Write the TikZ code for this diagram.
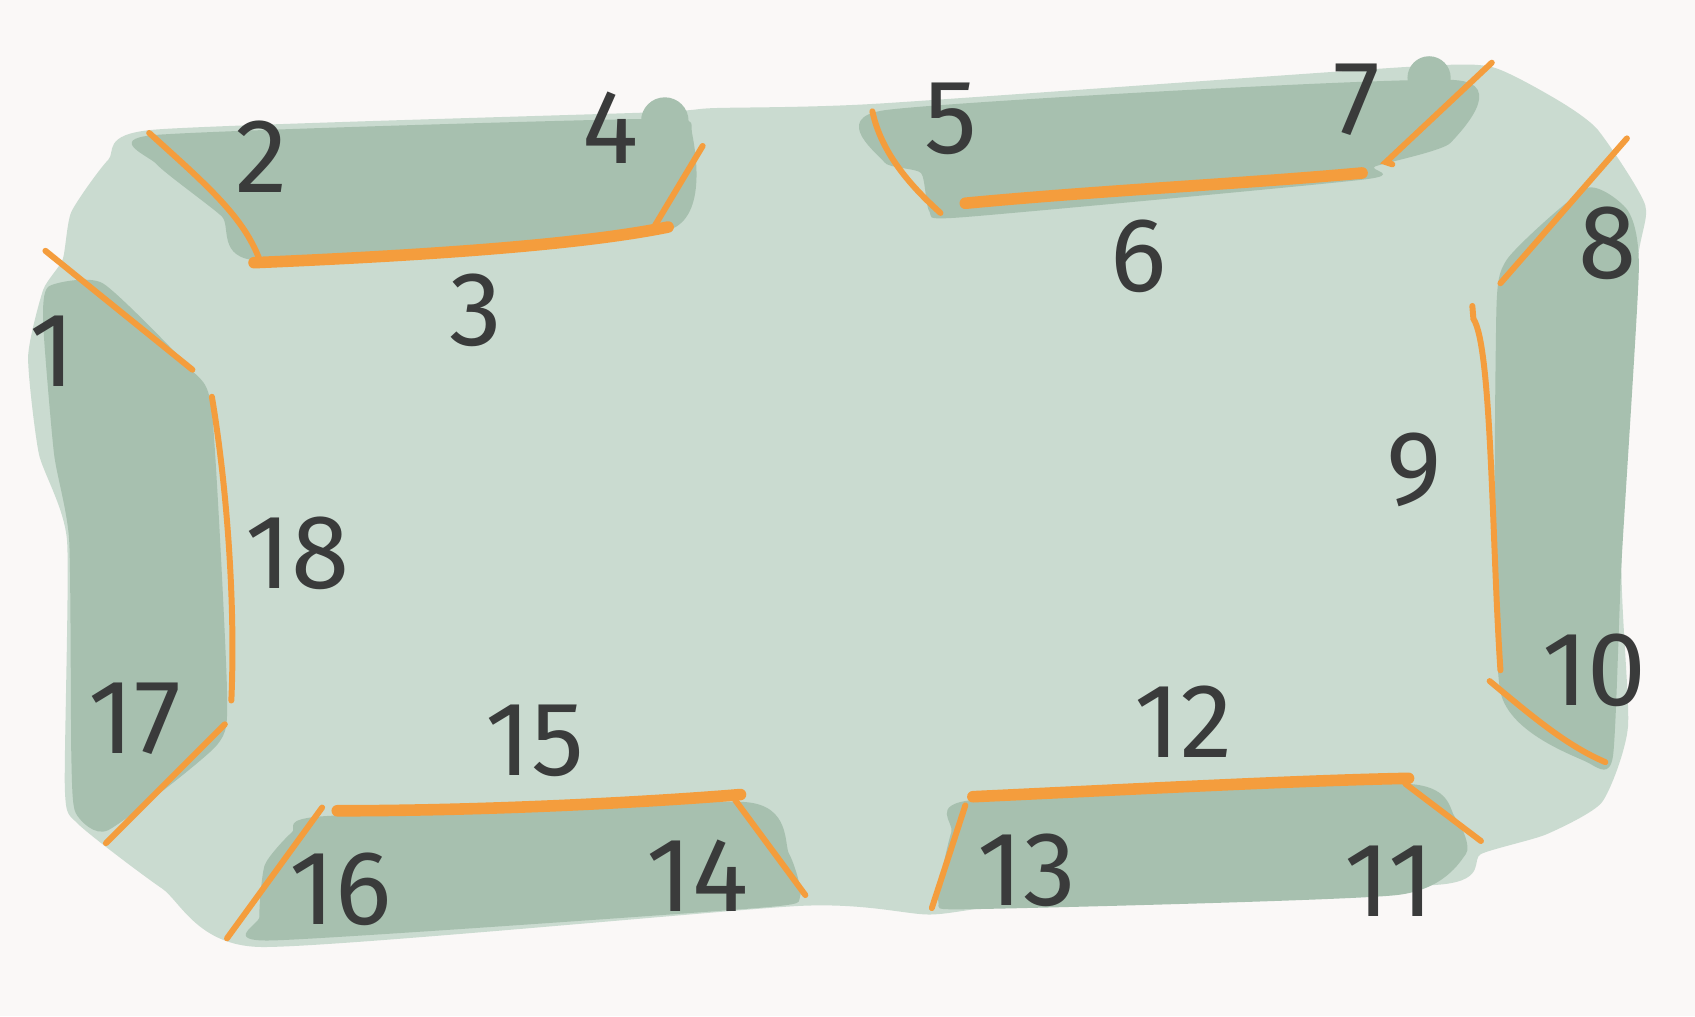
\documentclass[tikz,border=0pt]{standalone}
\usepackage{fontspec}
\setmainfont{Fira Sans}
\definecolor{paper}{HTML}{FAF8F7}
\definecolor{feltlight}{HTML}{CADBD0}
\definecolor{feltdark}{HTML}{A7C0AF}
\definecolor{railorange}{HTML}{F49D3D}
\definecolor{inkgrey}{HTML}{3A3B3B}

\begin{document}
\begin{tikzpicture}[x=0.1081mm, y=-0.1081mm,
    num/.style={text=inkgrey, font=\fontsize{30}{30}\selectfont, inner sep=0pt},
    rail/.style={draw=railorange, line width=1.7pt, line cap=round},
    railthick/.style={rail, line width=3.3pt},
    blob/.style={smooth cycle, tension=0.35}]

    \useasboundingbox[fill=paper] (0,0) rectangle (1568,940);

    % ================= TABLE BODY =================
    \fill[feltlight] plot[blob] coordinates {
        (100,148) (142,120) (600,104) (660,100) (810,96)
        (1300,62) (1380,62) (1440,92) (1478,120) (1522,190)
        (1514,250) (1500,520) (1506,672) (1482,742) (1430,772)
        (1370,790) (1335,818) (950,836) (860,846) (740,838)
        (240,876) (150,822) (72,762) (60,730) (62,500)
        (36,420) (26,330) (40,268) (58,240) (66,196)};

    % ================= POCKET BANDS =================
    \fill[feltdark] plot[blob] coordinates {
        (142,125) (600,110) (640,122) (618,213) (240,241)
        (205,200) (145,152)};
    \fill[feltdark] (615,112) circle (22);
    \fill[feltdark] plot[blob] coordinates {
        (818,102) (1345,74) (1342,132) (1272,154) (1262,166)
        (890,201) (860,196) (852,160) (818,150)};
    \fill[feltdark] (1322,72) circle (20);
    \fill[feltdark] plot[blob] coordinates {
        (1394,240) (1468,174) (1506,195) (1516,250) (1500,520)
        (1492,700) (1470,706) (1388,640) (1384,300)};
    \fill[feltdark] plot[blob] coordinates {
        (900,740) (1300,725) (1346,756) (1356,790) (1292,828)
        (900,841) (868,834) (880,770)};
    \fill[feltdark] plot[blob] coordinates {
        (300,755) (690,742) (730,790) (740,830) (700,840)
        (250,870) (240,848) (245,800) (270,770)};
    \fill[feltdark] plot[blob] coordinates {
        (45,265) (95,262) (175,340) (196,380) (210,640)
        (200,690) (100,768) (70,752) (66,700) (64,500)
        (50,420) (40,300)};

    % ================= CUSHIONS =================
    \draw[rail] (42,232) -- (178,342);
    \draw[rail] (138,123) .. controls (190,170) and (225,200) .. (240,240);
    \draw[railthick] (235,243) .. controls (400,236) and (540,226) .. (618,210);
    \draw[rail] (650,135) -- (605,210);
    \draw[rail] (807,103) .. controls (815,140) and (840,170) .. (870,197);
    \draw[railthick] (893,188) .. controls (1020,176) and (1150,170) .. (1260,160);
    \draw[rail] (1380,58) -- (1282,150) -- (1288,152);
    \draw[rail] (1505,128) -- (1388,262);
    \draw[rail] (1362,283) -- (1363,295) .. controls (1380,320) and (1380,500) .. (1388,620);
    \draw[rail] (1378,630) .. controls (1420,665) and (1450,690) .. (1485,705);
    \draw[rail] (1300,725) -- (1370,778);
    \draw[railthick] (900,737) .. controls (1050,730) and (1200,722) .. (1303,720);
    \draw[rail] (893,745) -- (862,840);
    \draw[rail] (680,740) -- (745,828);
    \draw[railthick] (312,750) .. controls (450,750) and (600,742) .. (685,735);
    \draw[rail] (298,747) -- (210,868);
    \draw[rail] (208,670) -- (98,780);
    \draw[rail] (196,367) .. controls (210,450) and (218,560) .. (214,648);

    % ================= LABELS =================
    \node[num] (n1)  at (48,325)   {1};
    \node[num] (n2)  at (242,145)  {2};
    \node[num] (n3)  at (440,287)  {3};
    \node[num] (n4)  at (565,118)  {4};
    \node[num] (n5)  at (880,110)  {5};
    \node[num] (n6)  at (1053,237) {6};
    \node[num] (n7)  at (1255,92)  {7};
    \node[num] (n8)  at (1487,225) {8};
    \node[num] (n9)  at (1308,435) {9};
    \node[num] (n10) at (1475,620) {10};
    \node[num] (n11) at (1285,815) {11};
    \node[num] (n12) at (1095,668) {12};
    \node[num] (n13) at (950,805)  {13};
    \node[num] (n14) at (645,810)  {14};
    \node[num] (n15) at (495,685)  {15};
    \node[num] (n16) at (315,823)  {16};
    \node[num] (n17) at (125,665)  {17};
    \node[num] (n18) at (275,512)  {18};

\end{tikzpicture}
\end{document}
